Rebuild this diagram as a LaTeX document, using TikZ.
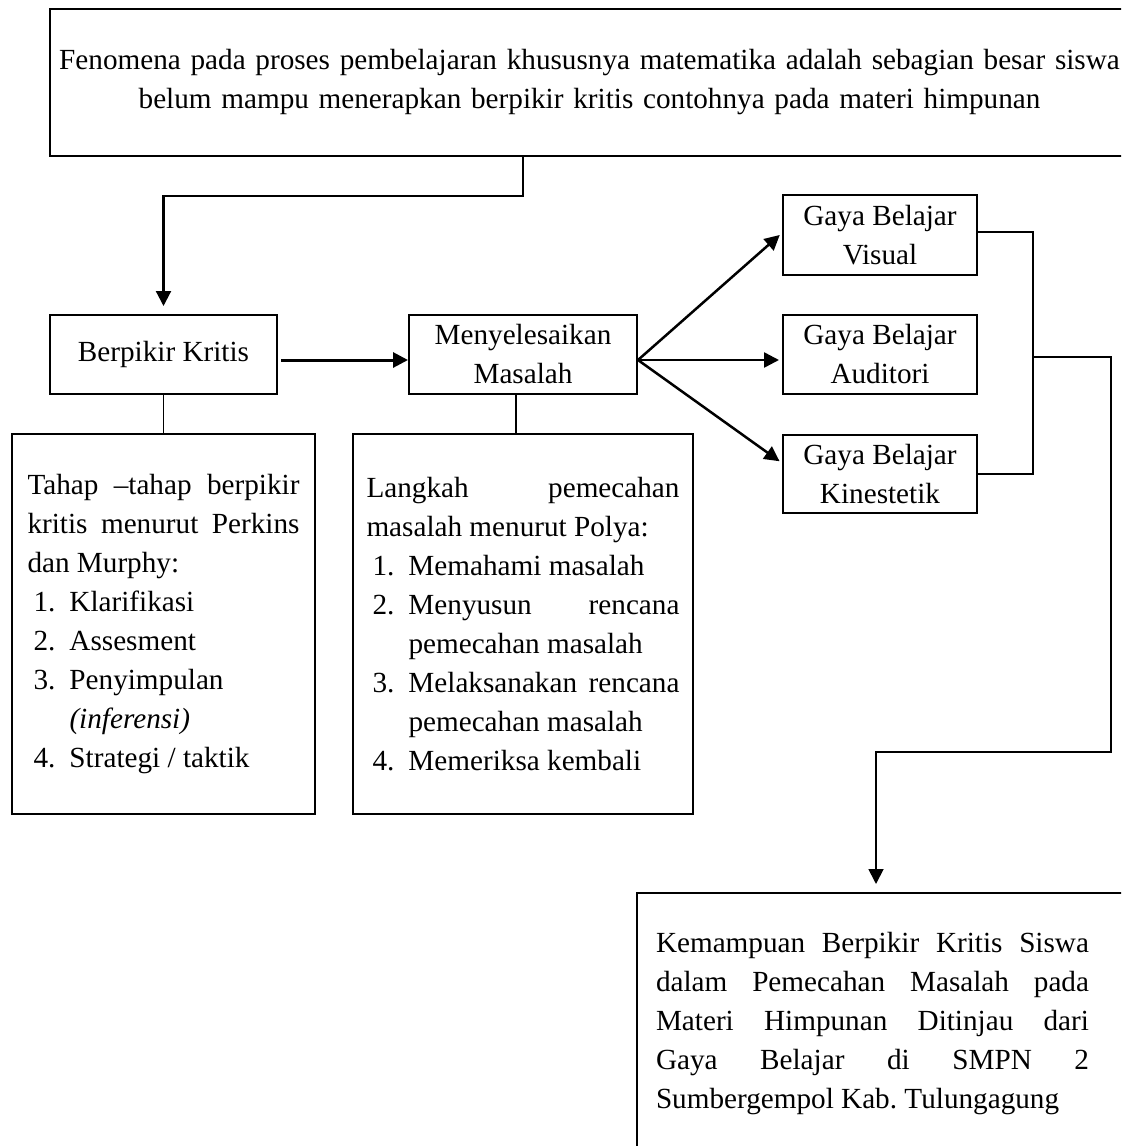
\documentclass[tikz,border=0pt]{standalone}
\usepackage{fontspec}
\setmainfont{Liberation Serif}
\usetikzlibrary{arrows.meta}
\tolerance=10000
\hbadness=10000
\hyphenpenalty=10000
\newcommand{\butir}[2]{\noindent\hangindent=21pt\hangafter=1\hspace*{3pt}\makebox[18pt][l]{#1}#2\par}
\tikzset{
  kotak/.style={draw, line width=1pt, inner sep=0pt, anchor=north west, align=center,
    font=\fontsize{14.6}{19.5}\selectfont},
  teks/.style={kotak, align=justify, minimum height=190pt},
  panah/.style={-{Triangle[length=7.5pt,width=7.5pt]}, line width=1.25pt},
  garis/.style={line width=0.8pt}
}

\begin{document}
\begin{tikzpicture}[x=1pt, y=-1pt]
\useasboundingbox (0,0) rectangle (560.5,573);
\clip (0,0) rectangle (560.5,573);
% Kotak utama
    \node[kotak, minimum width=539.5pt, minimum height=73.5pt, text width=539.5pt] (fenomena) at (24.5,4)
      {Fenomena pada proses pembelajaran khususnya matematika adalah sebagian besar siswa\\belum mampu menerapkan berpikir kritis contohnya pada materi himpunan};
    \node[kotak, minimum width=113.5pt, minimum height=39.5pt] (berpikir) at (24.5,157) {Berpikir Kritis};
    \node[kotak, minimum width=114pt, minimum height=39.5pt] (menyelesaikan) at (204,157) {Menyelesaikan\\Masalah};
    \node[kotak, minimum width=97pt, minimum height=40pt] (visual) at (391,97) {Gaya Belajar\\Visual};
    \node[kotak, minimum width=97pt, minimum height=39.5pt] (auditori) at (391,157) {Gaya Belajar\\Auditori};
    \node[kotak, minimum width=97pt, minimum height=39pt] (kinestetik) at (391,217) {Gaya Belajar\\Kinestetik};
% Kotak keterangan
    \node[teks, text width=136pt, inner xsep=7.75pt] (tahap) at (5.5,216.5) {%
      Tahap --tahap berpikir\linebreak kritis menurut Perkins\linebreak dan Murphy:\par
      \butir{1.}{Klarifikasi}
      \butir{2.}{Assesment}
      \butir{3.}{Penyimpulan\\\textit{(inferensi)}}
      \butir{4.}{Strategi / taktik}};
    \node[teks, text width=156.5pt, inner xsep=6.75pt] (langkah) at (176,216.5) {%
      Langkah pemecahan\linebreak masalah menurut Polya:\par
      \butir{1.}{Memahami masalah}
      \butir{2.}{Menyusun rencana\linebreak pemecahan masalah}
      \butir{3.}{Melaksanakan rencana\linebreak pemecahan masalah}
      \butir{4.}{Memeriksa kembali}};
    \node[kotak, text width=243.5pt, inner xsep=9.5pt, minimum height=131pt, align=justify] (hasil) at (318,446) {%
      \parbox{216.5pt}{\spaceskip=0pt\xspaceskip=0pt\rightskip=0pt\frenchspacing
      Kemampuan Berpikir Kritis Siswa\linebreak dalam Pemecahan Masalah pada\linebreak
      Materi Himpunan Ditinjau dari\linebreak Gaya Belajar di SMPN 2\linebreak Sumbergempol Kab.\ Tulungagung}};
% Panah
    \draw[panah, line width=1.1pt, shorten >=4pt] (fenomena.south -| menyelesaikan.north) -- ++(0,19.5) -| (berpikir.north);
    \draw[panah, line width=1.5pt, shorten <=1.5pt] ([yshift=-2.75pt]berpikir.east) -- ([yshift=-2.75pt]menyelesaikan.west);
    \draw[panah, shorten >=1.5pt] ([yshift=-2.75pt]menyelesaikan.east) -- ([yshift=1pt]visual.west);
    \draw[panah, shorten >=1.5pt] ([yshift=-2.75pt]menyelesaikan.east) -- ([yshift=-2.75pt]auditori.west);
    \draw[panah, shorten >=1.5pt] ([yshift=-2.75pt]menyelesaikan.east) -- ([yshift=5.5pt]kinestetik.west);
% Garis
    \draw[garis] (berpikir) -- (tahap);
    \draw[garis] ([xshift=-3.5pt]menyelesaikan.south) -- ([xshift=-3.5pt]langkah.north);
    \coordinate (gabung) at (516.5,178.5);
    \coordinate (belok) at (555.5,376);
    \draw[garis] ([yshift=1.5pt]visual.east) -| (gabung) |- (kinestetik.east);
    \draw[panah, line width=0.9pt, shorten >=4pt] (gabung) -| (belok) -| ([xshift=120pt]hasil.north west);
\end{tikzpicture}
\end{document}
